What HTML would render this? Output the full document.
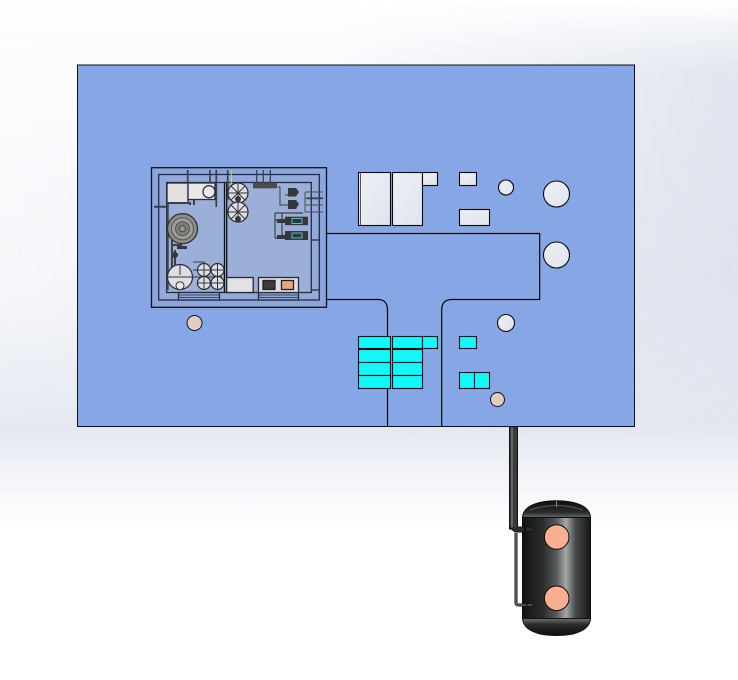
<!DOCTYPE html>
<html><head><meta charset="utf-8"><style>html,body{margin:0;padding:0;background:#fff}svg{display:block}</style></head>
<body>
<svg width="738" height="680" viewBox="0 0 738 680" xmlns="http://www.w3.org/2000/svg">
<defs>
<linearGradient id="bg" x1="0" y1="0" x2="0" y2="1"><stop offset="0" stop-color="#fff"/><stop offset=".1" stop-color="#f9fafc"/><stop offset=".63" stop-color="#e4e8f1"/><stop offset=".7" stop-color="#f2f4f8"/><stop offset=".78" stop-color="#fff"/><stop offset="1" stop-color="#fff"/></linearGradient>
<linearGradient id="bgr" x1="0" y1="0" x2="1" y2="0"><stop offset="0" stop-color="#fff" stop-opacity=".5"/><stop offset=".4" stop-color="#fff" stop-opacity="0"/><stop offset=".45" stop-color="#d8ddea" stop-opacity="0"/><stop offset="1" stop-color="#d8ddea" stop-opacity=".7"/></linearGradient>
<linearGradient id="mg" x1="0" y1="0" x2="0" y2="1"><stop offset="0" stop-color="#000"/><stop offset=".16" stop-color="#fff"/><stop offset=".65" stop-color="#fff"/><stop offset="1" stop-color="#000"/></linearGradient>
<mask id="m" maskUnits="userSpaceOnUse" x="0" y="0" width="738" height="440"><rect width="738" height="440" fill="url(#mg)"/></mask>
<linearGradient id="tank" x1="0" y1="0" x2="1" y2="0"><stop offset="0" stop-color="#121212"/><stop offset=".3" stop-color="#2c2e2e"/><stop offset=".5" stop-color="#565a5a"/><stop offset=".64" stop-color="#a4a8a8"/><stop offset=".78" stop-color="#464949"/><stop offset="1" stop-color="#161616"/></linearGradient>
<linearGradient id="domeT" x1="0" y1="0" x2="0" y2="1"><stop offset="0" stop-color="#0d0d0d"/><stop offset=".7" stop-color="#2a2c2c"/><stop offset="1" stop-color="#666a6a"/></linearGradient>
<linearGradient id="domeB" x1="0" y1="0" x2="0" y2="1"><stop offset="0" stop-color="#707373"/><stop offset=".35" stop-color="#2a2c2c"/><stop offset="1" stop-color="#0d0d0d"/></linearGradient>
<linearGradient id="white" x1="0" y1="0" x2="1" y2="1"><stop offset="0" stop-color="#eff0f5"/><stop offset="1" stop-color="#dfe3ee"/></linearGradient>
</defs>
<rect width="738" height="680" fill="url(#bg)"/>
<rect width="738" height="440" fill="url(#bgr)" mask="url(#m)"/>
<rect x="77.500" y="65" width="557" height="361.500" fill="#87a6e6" stroke="#111" stroke-width="1"/>

<!-- connector lines -->
<g fill="none" stroke="#0a0a0a" stroke-width="1.200">
<path d="M326 233.500H539.700V299.500H452Q441.700 299.500 441.700 310V426"/>
<path d="M326 299.500H378Q387.500 299.500 387.500 310V336M387.500 388V426"/>
</g>

<!-- assembly -->
<g stroke="#2a2d35" stroke-width="1.300">
<rect x="151.500" y="167.700" width="175" height="139.600" fill="#8ba6df" stroke="#111"/>
<rect x="158.700" y="174.500" width="160.600" height="125.500" fill="#92a9dc"/>
<rect x="166.700" y="182.500" width="144.600" height="110" fill="#9bafd8"/>
<path d="M224.500 182.500V292.500" fill="none" stroke="#111"/>
<path d="M226.700 182.500V292.500" fill="none" stroke="#111"/>
<path d="M311 240H319M311 290H319" fill="none"/>
<rect x="178.500" y="292.500" width="41" height="7.500" fill="#8ba6df"/>
<rect x="258.500" y="292.500" width="40" height="7.500" fill="#8ba6df"/>
<path d="M178.500 295H219.500M178.500 297.500H219.500M258.500 295H298.500M258.500 297.500H298.500" fill="none" stroke-width=".8"/>
<rect x="167" y="183" width="21" height="20" fill="#e0e0de"/>
<rect x="188" y="183" width="27" height="16.500" fill="#e8e8e8"/>
<circle cx="209" cy="191.700" r="6" fill="#e8e8e8"/>
<rect x="226.700" y="277.500" width="26.500" height="15" fill="#e2e2e2"/>
<rect x="258.500" y="277.500" width="40" height="15" fill="#dedfdf"/>
<rect x="263" y="280.500" width="12" height="9" fill="#3b3b3b" stroke="#222"/>
<rect x="281.500" y="280.500" width="12" height="9" fill="#eaa57e" stroke="#222"/>
</g>
<!-- pipes in assembly -->
<g fill="none" stroke="#3c3f45" stroke-width="1.700">
<path d="M187.700 170V183M210 170V183M216.300 170V207M227.700 170V200"/>
<path d="M154 206.700H168M167.700 203V290M168 203H190V205M194 199V205" stroke-width="2"/>
<path d="M172 240V280M172 245H182M175 250V270" stroke-width="2"/>
<path d="M193 262H205M193 270H222M193 277H222" stroke-width="1"/>
<path d="M256.700 170V184M263.300 170V184M270.300 170V184" stroke-width="1.300"/>
<path d="M280 187V205H290M280 187H278M285 195H290" stroke-width="1"/>
<path d="M275 213V238M275 213H303M275 220H290M275 238H290M282 213V238" stroke-width="1.200"/>
<path d="M305 192V212H323M305 192H323M305 198.300H323M305 205H323M305 212H323" stroke-width="1" stroke="#48505c"/>
<path d="M307 198.300H323" stroke-width="1.800" stroke="#3a3e46"/>
</g>
<path d="M231.300 170V200" stroke="#d9d44a" stroke-width="1" fill="none"/>
<rect x="253" y="182.700" width="24" height="5.600" fill="#4a4c50"/>
<!-- big filter -->
<circle cx="182.500" cy="228.700" r="15" fill="#8f8d88" stroke="#333" stroke-width="1.300"/>
<circle cx="182.500" cy="228.700" r="11" fill="#a09e98" stroke="#555"/>
<circle cx="182.500" cy="228.700" r="7" fill="#7f7e79" stroke="#555"/>
<circle cx="182.500" cy="228.700" r="3" fill="#9c9b97" stroke="#444"/>
<!-- pumps -->
<g fill="#dedfe2" stroke="#2c2d31" stroke-width="1.200">
<circle cx="238" cy="193" r="10"/><circle cx="238" cy="212" r="10"/>
<circle cx="180" cy="277" r="12.500"/>
<circle cx="204" cy="270" r="6.500"/><circle cx="217.500" cy="270" r="6.500"/>
<circle cx="204" cy="283" r="6.500"/><circle cx="217.500" cy="283" r="6.500"/>
</g>
<g stroke="#33353a" stroke-width="1" fill="none">
<path d="M228 193H248M238 183V203M231 186L245 200M245 186L231 200"/>
<path d="M228 212H248M238 202V222M231 205L245 219M245 205L231 219"/>
<path d="M168 277H192M180 265V275"/>
<path d="M198 270H210M204 264V276M211 270H224M217.500 264V276M198 283H210M204 277V289M211 283H224M217.500 277V289"/>
</g>
<circle cx="180" cy="285.700" r="4" fill="#e8e8e8" stroke="#333"/>
<g fill="#35373b">
<circle cx="238" cy="199" r="3"/><circle cx="238" cy="219" r="3"/>
<circle cx="175" cy="255" r="3"/>
<rect x="177" y="246" width="10" height="3"/>
<path d="M288 188H296L299 192L296 196.500H288Z"/><path d="M288 200H296L299 204L296 209H288Z"/>
<rect x="285" y="216.700" width="23" height="8.500"/><rect x="285" y="231" width="23" height="9"/>
<rect x="277" y="219" width="8" height="4"/><rect x="277" y="235" width="8" height="4"/>
</g>
<g fill="none" stroke="#46c3d2" stroke-width="1">
<rect x="292" y="218.500" width="10" height="5"/><rect x="292" y="233" width="10" height="5"/>
</g>

<!-- white parts -->
<g fill="url(#white)" stroke="#0a0a0a" stroke-width="1.100">
<rect x="358.500" y="172.500" width="32" height="53"/>
<rect x="392.500" y="172.500" width="30" height="53"/>
<rect x="422.500" y="172.500" width="15" height="13"/>
<rect x="459.500" y="172.500" width="17" height="13"/>
<rect x="459.500" y="209.500" width="30" height="16"/>
<circle cx="506" cy="187.500" r="7.500"/>
<circle cx="556.500" cy="194" r="13"/>
<circle cx="556.500" cy="255" r="13"/>
<circle cx="506" cy="323" r="8.500"/>
</g>
<path d="M360.500 172.500V225" stroke="#555" stroke-width="1"/>
<!-- cyan -->
<g fill="#12f7f7" stroke="#0a0a0a" stroke-width="1.100">
<rect x="358.500" y="336.500" width="32" height="12"/>
<rect x="358.500" y="349.500" width="32" height="13"/>
<rect x="358.500" y="362.500" width="32" height="13"/>
<rect x="358.500" y="375.500" width="32" height="13"/>
<rect x="392.500" y="336.500" width="30" height="12"/>
<rect x="392.500" y="349.500" width="30" height="13"/>
<rect x="392.500" y="362.500" width="30" height="13"/>
<rect x="392.500" y="375.500" width="30" height="13"/>
<rect x="422.500" y="336.500" width="15" height="12"/>
<rect x="459.500" y="336.500" width="17" height="12"/>
<rect x="459.500" y="372.500" width="15" height="16"/>
<rect x="474.500" y="372.500" width="15" height="16"/>
</g>
<!-- beige circles -->
<circle cx="194.500" cy="323" r="7.500" fill="#e0cdbf" stroke="#111" stroke-width="1"/>
<circle cx="497.500" cy="399.500" r="7" fill="#e0cdbf" stroke="#111" stroke-width="1"/>

<!-- tank -->
<path d="M522.500 517.500C523 508 532 504 542 502C552 500.300 561 500.300 571 502C581 504 590 508 590.500 517.500Z" fill="url(#domeT)" stroke="#111" stroke-width="1"/>
<rect x="522.500" y="517.500" width="68" height="101" fill="url(#tank)" stroke="#0c0c0c" stroke-width="1"/>
<path d="M522.500 618.500C523 627 530 631 540 634C550 636 563 636 573 634C583 631 590 627 590.500 618.500Z" fill="url(#domeB)" stroke="#111" stroke-width="1"/>
<path d="M530 510Q556 501 583 510" fill="none" stroke="#555858" stroke-width="1"/>
<path d="M556.500 501V507" stroke="#888" stroke-width="1"/>
<circle cx="556.700" cy="537" r="12.300" fill="#f8b090" stroke="#0c0c0c" stroke-width="1"/>
<circle cx="556.700" cy="598.300" r="12.300" fill="#f8b090" stroke="#0c0c0c" stroke-width="1"/>
<!-- pipes -->
<rect x="509.500" y="427" width="8" height="102" fill="#3a3c3c" stroke="#111" stroke-width="1"/>
<path d="M512 427V527" stroke="#8a8d8d" stroke-width="1"/>
<path d="M510 528L515 532H532L535 530L532 527H518" fill="#2a2c2c" stroke="#111" stroke-width="1"/>
<rect x="524" y="526" width="2" height="11" fill="#111"/>
<path d="M516 533V603Q516 605 519 605H532" fill="none" stroke="#111" stroke-width="3"/>
<path d="M516 533V603Q516 605 519 605H532" fill="none" stroke="#8c8f8f" stroke-width="1"/>
<path d="M527 602V607" stroke="#111" stroke-width="1"/>
</svg>
</body></html>
